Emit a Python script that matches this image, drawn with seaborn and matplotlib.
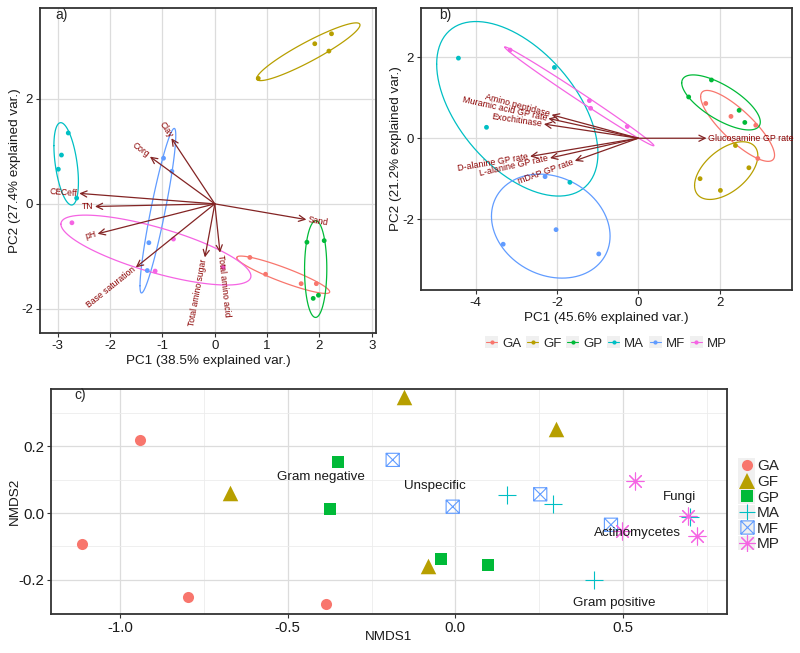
import numpy as np
import pandas as pd
import matplotlib
matplotlib.use("Agg")
import matplotlib.pyplot as plt
import seaborn as sns
from matplotlib.path import Path
from matplotlib.lines import Line2D
from matplotlib.patches import Rectangle
from matplotlib.legend_handler import HandlerBase
from matplotlib.transforms import offset_copy
from matplotlib.ticker import MultipleLocator, FormatStrFormatter

# ---------------- data ----------------
groups = ["GA", "GF", "GP", "MA", "MF", "MP"]
palette = ["#F8766D", "#B79F00", "#00BA38", "#00BFC4", "#619CFF", "#F564E3"]
group_col = np.repeat(groups, 4)

# panel a: PCA of soil properties
a_pc1 = [0.67, 0.97, 1.65, 1.94,
         0.83, 1.91, 2.23, 2.18,
         1.76, 2.09, 1.98, 1.88,
         -2.80, -2.93, -2.99, -2.64,
         -0.98, -0.82, -1.26, -1.29,
         -2.73, -0.79, -1.14, 0.16]
a_pc2 = [-1.02, -1.34, -1.52, -1.52,
         2.39, 3.05, 3.24, 2.91,
         -0.73, -0.70, -1.74, -1.80,
         1.35, 0.93, 0.66, 0.11,
         0.87, 0.62, -0.74, -1.27,
         -0.36, -0.67, -1.28, -1.21]
a_vars = ["Clay", "Corg", "CECeff", "TN", "pH", "Base saturation",
          "Total amino sugar", "Total amino acid", "Sand"]
a_vx = [-0.83, -1.24, -2.59, -2.29, -2.24, -1.51, -0.19, 0.10, 1.75]
a_vy = [1.25, 0.90, 0.20, -0.05, -0.57, -1.21, -1.02, -0.93, -0.30]

# panel b: PCA of enzyme / gross production rates
b_pc1 = [1.66, 2.28, 2.89, 2.94,
         2.39, 1.52, 2.02, 2.72,
         1.24, 1.80, 2.48, 2.62,
         -4.42, -2.06, -3.73, -1.68,
         -2.29, -2.02, -3.32, -0.97,
         -3.15, -1.20, -1.17, -0.27]
b_pc2 = [0.86, 0.54, 0.32, -0.50,
         -0.18, -1.00, -1.29, -0.73,
         1.02, 1.44, 0.69, 0.39,
         1.98, 1.75, 0.27, -1.09,
         -0.95, -2.26, -2.62, -2.86,
         2.18, 0.93, 0.74, 0.29]
b_vars = ["Amino peptidase", "Muramic acid GP rate", "Exochitinase",
          "D-alanine GP rate", "L-alanine GP rate", "mDAP GP rate",
          "Glucosamine GP rate"]
b_vx = [-2.13, -2.21, -2.32, -2.66, -2.17, -1.56, 1.68]
b_vy = [0.58, 0.49, 0.35, -0.45, -0.49, -0.56, 0.0]

# panel c: NMDS
c_nmds1 = [-0.940, -1.114, -0.798, -0.385,
           -0.672, -0.154, 0.300, -0.083,
           -0.350, -0.373, -0.043, 0.096,
           0.154, 0.292, 0.413, 0.701,
           -0.187, -0.008, 0.253, 0.464,
           0.535, 0.693, 0.720, 0.496]
c_nmds2 = [0.219, -0.094, -0.251, -0.273,
           0.059, 0.346, 0.250, -0.159,
           0.152, 0.011, -0.138, -0.154,
           0.055, 0.026, -0.201, -0.011,
           0.159, 0.019, 0.056, -0.035,
           0.097, -0.008, -0.068, -0.055]
c_labels = ["Gram negative", "Unspecific", "Fungi", "Actinomycetes", "Gram positive"]
c_lx = [-0.401, -0.060, 0.667, 0.542, 0.473]
c_ly = [0.109, 0.082, 0.049, -0.059, -0.270]

dfa = pd.DataFrame({"PC1": a_pc1, "PC2": a_pc2, "group": group_col})
dfb = pd.DataFrame({"PC1": b_pc1, "PC2": b_pc2, "group": group_col})
dfc = pd.DataFrame({"NMDS1": c_nmds1, "NMDS2": c_nmds2, "group": group_col})

# ---------------- style ----------------
sns.set_style("white")
plt.rcParams["font.family"] = ["Liberation Sans", "DejaVu Sans"]
plt.rcParams["axes.unicode_minus"] = False

fig = plt.figure(figsize=(8, 6.53), dpi=100)
axA = fig.add_axes([0.050, 0.490, 0.420, 0.4977])
axB = fig.add_axes([0.52625, 0.556, 0.46375, 0.4318])
axC = fig.add_axes([0.06375, 0.0597, 0.845, 0.3446])

ARROW_COL = "#832424"
TEXT_COL = "#8B0000"


def style_axes(ax, tick_size):
    for sp in ax.spines.values():
        sp.set_color("#333333")
        sp.set_linewidth(1.3)
    ax.set_axisbelow(True)
    ax.grid(True, which="major", color="#dcdcdc", lw=0.9)
    ax.tick_params(axis="both", which="major", length=3, width=0.8, color="#333333",
                   labelsize=tick_size, labelcolor="#1a1a1a", pad=2, direction="out",
                   bottom=True, left=True)
    ax.tick_params(axis="both", which="minor", length=0)


def draw_ellipse(ax, x, y, color, prob=0.68, n=101):
    th = np.linspace(-np.pi, np.pi, n)
    circle = np.column_stack([np.cos(th), np.sin(th)])
    sigma = np.cov(np.asarray(x), np.asarray(y))
    ed = np.sqrt(-2 * np.log(1 - prob))
    L = np.linalg.cholesky(sigma)
    pts = circle @ L.T * ed + np.array([np.mean(x), np.mean(y)])
    ax.plot(pts[:, 0], pts[:, 1], color=color, lw=0.9)


def biplot(ax, df, vx, vy, names, fsize):
    for g, c in zip(groups, palette):
        sub = df[df.group == g]
        draw_ellipse(ax, sub.PC1.values, sub.PC2.values, c)
    sns.scatterplot(data=df, x="PC1", y="PC2", hue="group", palette=palette,
                    hue_order=groups, s=12, linewidth=0, legend=False, ax=ax, zorder=3)
    for x, y, name in zip(vx, vy, names):
        ax.annotate("", xy=(x, y), xytext=(0, 0),
                    arrowprops=dict(arrowstyle="->,head_length=0.45,head_width=0.22",
                                    color=ARROW_COL, lw=0.9, shrinkA=0, shrinkB=0))
        ang = np.degrees(np.arctan(y / x))
        norm = np.hypot(x, y)
        off = 1.2
        tr = offset_copy(ax.transData, fig=fig, x=off * x / norm, y=off * y / norm,
                         units="points")
        ax.text(x, y, name, rotation=ang, rotation_mode="anchor",
                ha="left" if x > 0 else "right", va="center",
                fontsize=fsize, color=TEXT_COL, transform=tr, zorder=4)


# ---------------- panel a ----------------
biplot(axA, dfa, a_vx, a_vy, a_vars, 6.2)
axA.set_xlim(-3.34, 3.08)
axA.set_ylim(-2.46, 3.73)
axA.xaxis.set_major_locator(MultipleLocator(1))
axA.yaxis.set_major_locator(MultipleLocator(2))
style_axes(axA, 9.5)
axA.set_xlabel("PC1 (38.5% explained var.)", fontsize=9.7, color="#1a1a1a")
axA.set_ylabel("PC2 (27.4% explained var.)", fontsize=9.7, color="#1a1a1a")
axA.xaxis.set_label_coords(0.5, -0.069)
axA.yaxis.set_label_coords(-0.057, 0.5)
axA.text(0.065, 0.978, "a)", transform=axA.transAxes, ha="center", va="center", fontsize=10)

# ---------------- panel b ----------------
biplot(axB, dfb, b_vx, b_vy, b_vars, 6.4)
axB.set_xlim(-5.34, 3.78)
axB.set_ylim(-3.75, 3.22)
axB.xaxis.set_major_locator(MultipleLocator(2))
axB.yaxis.set_major_locator(MultipleLocator(2))
style_axes(axB, 9.5)
axB.set_xlabel("PC1 (45.6% explained var.)", fontsize=9.7, color="#1a1a1a")
axB.set_ylabel("PC2 (21.2% explained var.)", fontsize=9.7, color="#1a1a1a")
axB.xaxis.set_label_coords(0.5, -0.077)
axB.yaxis.set_label_coords(-0.051, 0.5)
axB.text(0.065, 0.975, "b)", transform=axB.transAxes, ha="center", va="center", fontsize=10)


class KeyHandler(HandlerBase):
    def __init__(self, with_line=False, **kw):
        super().__init__(**kw)
        self.with_line = with_line

    def create_artists(self, legend, orig, xdescent, ydescent, width, height,
                       fontsize, trans):
        x0, y0 = -xdescent, -ydescent
        arts = [Rectangle((x0, y0), width, height, facecolor="#f0f0f0",
                          edgecolor="none", transform=trans)]
        cy = y0 + height / 2
        cx = x0 + width / 2
        if self.with_line:
            arts.append(Line2D([x0 + 1, x0 + width - 1], [cy, cy], color=orig.get_color(),
                               lw=0.8, transform=trans))
        arts.append(Line2D([cx], [cy], marker=orig.get_marker(), linestyle="none",
                           markersize=orig.get_markersize(),
                           markerfacecolor=orig.get_markerfacecolor(),
                           markeredgecolor=orig.get_markeredgecolor(),
                           markeredgewidth=orig.get_markeredgewidth(), transform=trans))
        return arts


hb = [Line2D([0], [0], color=c, marker="o", markersize=3, markeredgewidth=0,
             markerfacecolor=c, lw=0.8) for c in palette]
fig.legend(hb, groups, loc="center", bbox_to_anchor=(0.7575, 1 - 343 / 653), ncol=6,
           frameon=False, fontsize=9.5, handlelength=1.0, handleheight=1.0,
           handletextpad=0.3, columnspacing=0.35, borderpad=0,
           handler_map={h: KeyHandler(with_line=True) for h in hb})

# ---------------- panel c ----------------
box_x = Path([(-1, -1), (1, -1), (1, 1), (-1, 1), (-1, -1),
              (-1, -1), (1, 1), (-1, 1), (1, -1)],
             [Path.MOVETO, Path.LINETO, Path.LINETO, Path.LINETO, Path.CLOSEPOLY,
              Path.MOVETO, Path.LINETO, Path.MOVETO, Path.LINETO])
c_markers = {"GA": "o", "GF": "^", "GP": "s", "MA": "+", "MF": box_x, "MP": (8, 2, 0)}
c_sizes = {"GA": 64, "GF": 125, "GP": 78, "MA": 150, "MF": 90, "MP": 150}
filled = {"GA": True, "GF": True, "GP": True, "MA": False, "MF": False, "MP": False}

for g, c in zip(groups, palette):
    sub = dfc[dfc.group == g]
    if filled[g]:
        sns.scatterplot(data=sub, x="NMDS1", y="NMDS2", marker=c_markers[g], color=c,
                        s=c_sizes[g], linewidth=0, legend=False, ax=axC, zorder=3)
    else:
        axC.scatter(sub.NMDS1, sub.NMDS2, marker=c_markers[g], s=c_sizes[g],
                    facecolors="none" if g == "MF" else c, edgecolors=c,
                    linewidths=0.8, zorder=3)

for x, y, t in zip(c_lx, c_ly, c_labels):
    axC.text(x, y, t, ha="center", va="center", fontsize=9.6, color="#1a1a1a", zorder=4)

axC.set_xlim(-1.206, 0.81)
axC.set_ylim(-0.302, 0.371)
axC.xaxis.set_major_locator(MultipleLocator(0.5))
axC.xaxis.set_minor_locator(MultipleLocator(0.25))
axC.yaxis.set_major_locator(MultipleLocator(0.2))
axC.yaxis.set_minor_locator(MultipleLocator(0.1))
axC.xaxis.set_major_formatter(FormatStrFormatter("%.1f"))
axC.yaxis.set_major_formatter(FormatStrFormatter("%.1f"))
style_axes(axC, 10.8)
axC.grid(True, which="minor", color="#ececec", lw=0.6)
axC.set_xlabel("NMDS1", fontsize=9.7, color="#1a1a1a")
axC.set_ylabel("NMDS2", fontsize=9.7, color="#1a1a1a")
axC.xaxis.set_label_coords(0.5, -0.076)
axC.yaxis.set_label_coords(-0.044, 0.5)
axC.text(0.043, 0.973, "c)", transform=axC.transAxes, ha="center", va="center", fontsize=10)

ms = {"GA": 8.0, "GF": 11.2, "GP": 8.8, "MA": 12.2, "MF": 9.5, "MP": 12.2}
hc = []
for g, c in zip(groups, palette):
    if filled[g]:
        hc.append(Line2D([0], [0], marker=c_markers[g], linestyle="none", markersize=ms[g],
                         markerfacecolor=c, markeredgecolor=c, markeredgewidth=0))
    else:
        hc.append(Line2D([0], [0], marker=c_markers[g], linestyle="none", markersize=ms[g],
                         markerfacecolor="none", markeredgecolor=c, markeredgewidth=0.8))
fig.legend(hc, groups, loc="center left", bbox_to_anchor=(0.923, 1 - 504.5 / 653),
           frameon=False, fontsize=11, handlelength=1.1, handleheight=1.1,
           handletextpad=0.12, labelspacing=0.0, borderpad=0, borderaxespad=0,
           handler_map={h: KeyHandler(with_line=False) for h in hc})

fig.savefig("out.png", dpi=100)
